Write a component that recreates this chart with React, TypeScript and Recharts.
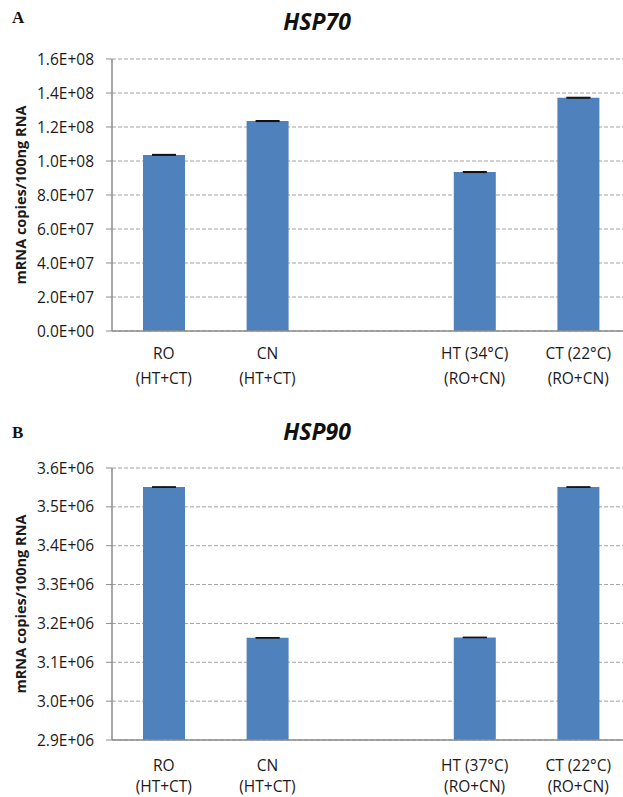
import React from "react";
import { BarChart, Bar, XAxis, YAxis, CartesianGrid, ErrorBar, Label } from "recharts";

// category slots (the third slot is an empty spacer)
const categoryKeys = ["RO", "CN", "gap", "HT", "CT"];
const topLinesA = ["RO", "CN", "", "HT (34°C)", "CT (22°C)"];
const topLinesB = ["RO", "CN", "", "HT (37°C)", "CT (22°C)"];
const bottomLines = ["(HT+CT)", "(HT+CT)", "", "(RO+CN)", "(RO+CN)"];

const hsp70Values = [1.036e8, 1.235e8, null, 0.935e8, 1.372e8];
const hsp70Errors = [0.25e6, 0.25e6, null, 0.25e6, 0.25e6];
const hsp90Values = [3.551e6, 3.163e6, null, 3.164e6, 3.551e6];
const hsp90Errors = [0.6e3, 0.6e3, null, 0.6e3, 0.6e3];

const hsp70Ticks = [0, 2e7, 4e7, 6e7, 8e7, 1e8, 1.2e8, 1.4e8, 1.6e8];
const hsp90Ticks = [2.9e6, 3.0e6, 3.1e6, 3.2e6, 3.3e6, 3.4e6, 3.5e6, 3.6e6];

const yTitle = "mRNA copies/100ng RNA";
const FONT = "'Open Sans', 'Liberation Sans', sans-serif";
const BLUE = "#4F81BD";

const buildRows = (values: (number | null)[], errors: (number | null)[]) =>
  categoryKeys.map((key, i) => ({ key, value: values[i], err: errors[i] }));

// excel style scientific labels, e.g. 1.6E+08
const sci = (v: number) => {
  const [m, e] = v.toExponential(1).split("e");
  const n = Math.abs(Number(e));
  return `${m}E${Number(e) < 0 ? "-" : "+"}${n < 10 ? "0" + n : n}`;
};

const makeTick = (top: string[], d1: number, d2: number) => (props: any) => {
  const { x, y, payload } = props;
  const i = categoryKeys.indexOf(payload.value);
  return (
    <g>
      <text x={x} y={y + d1} textAnchor="middle" dominantBaseline="central" fontSize={15.5} fill="#1a1a1a" fontFamily={FONT}>
        {top[i]}
      </text>
      <text x={x} y={y + d2} textAnchor="middle" dominantBaseline="central" fontSize={15.5} fill="#1a1a1a" fontFamily={FONT}>
        {bottomLines[i]}
      </text>
    </g>
  );
};

const yLabel = ({ viewBox }: any) => {
  const cy = viewBox.y + viewBox.height / 2;
  return (
    <text x={20} y={cy} transform={`rotate(-90 20 ${cy})`} textAnchor="middle" dominantBaseline="central" fontSize={14.5} fontWeight={700} fill="#1a1a1a" fontFamily={FONT}>
      {yTitle}
    </text>
  );
};

function Panel({ rows, ticks, domain, top, d1, d2, marginTop, height }: any) {
  return (
    <BarChart
      width={640}
      height={height}
      data={rows}
      margin={{ top: marginTop, right: 10, left: 0, bottom: height - marginTop - 272 - 50 }}
      barSize={42}
    >
      <CartesianGrid vertical={false} stroke="#a0a0a0" strokeDasharray="4 2" />
      <XAxis
        dataKey="key"
        height={50}
        interval={0}
        tickLine={false}
        tickSize={0}
        tickMargin={0}
        axisLine={{ stroke: "#8c8c8c", strokeWidth: 1.5 }}
        tick={makeTick(top, d1, d2)}
      />
      <YAxis
        width={112}
        domain={domain}
        ticks={ticks}
        interval={0}
        tickFormatter={sci}
        tickSize={6}
        tickMargin={12}
        axisLine={{ stroke: "#8c8c8c", strokeWidth: 1.5 }}
        tickLine={{ stroke: "#8c8c8c" }}
        tick={{ fontSize: 15.5, fill: "#1a1a1a", fontFamily: FONT }}
      >
        <Label content={yLabel} />
      </YAxis>
      <Bar dataKey="value" fill={BLUE} isAnimationActive={false}>
        <ErrorBar dataKey="err" width={12} stroke="#111" strokeWidth={1.2} direction="y" isAnimationActive={false} />
      </Bar>
    </BarChart>
  );
}

const panelLetter = (ch: string, top: number) => (
  <div style={{ position: "absolute", left: 12, top, fontFamily: "'Liberation Serif', 'DejaVu Serif', serif", fontWeight: 700, fontSize: 17, lineHeight: "17px", color: "#111" }}>
    {ch}
  </div>
);

const panelTitle = (t: string, cy: number) => (
  <div style={{ position: "absolute", left: 217, width: 200, top: cy - 14, height: 28, lineHeight: "28px", textAlign: "center", fontFamily: FONT, fontWeight: 700, fontStyle: "italic", fontSize: 23, color: "#111" }}>
    {t}
  </div>
);

export default function App() {
  return (
    <div style={{ position: "absolute", left: 0, top: 0, width: 623, height: 797, overflow: "hidden", background: "#fff" }}>
      {panelLetter("A", 9)}
      {panelTitle("HSP70", 21)}
      <div style={{ position: "absolute", left: 0, top: 0 }}>
        <Panel rows={buildRows(hsp70Values, hsp70Errors)} ticks={hsp70Ticks} domain={[0, 1.6e8]} top={topLinesA} d1={22} d2={47} marginTop={59} height={390} />
      </div>
      {panelLetter("B", 424)}
      {panelTitle("HSP90", 431)}
      <div style={{ position: "absolute", left: 0, top: 400 }}>
        <Panel rows={buildRows(hsp90Values, hsp90Errors)} ticks={hsp90Ticks} domain={[2.9e6, 3.6e6]} top={topLinesB} d1={25} d2={46} marginTop={68} height={397} />
      </div>
    </div>
  );
}
